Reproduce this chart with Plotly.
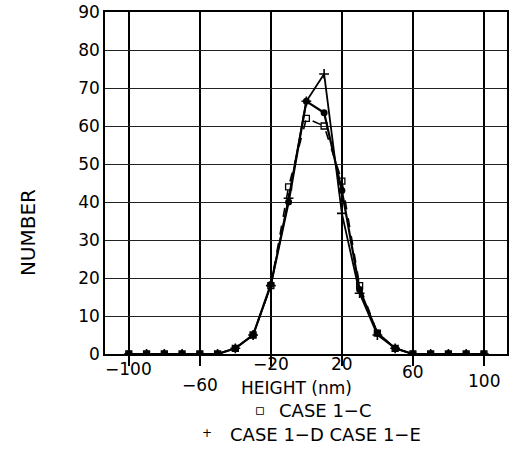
import plotly.graph_objects as go

# Height bins (nm) and counts per case
height = [-100, -90, -80, -70, -60, -50, -40, -30, -20, -10, 0,
          10, 20, 30, 40, 50, 60, 70, 80, 90, 100]
case_c = [0, 0, 0, 0, 0, 0, 1.5, 5, 18, 44, 62, 60, 45.5, 18, 5.5, 1.5, 0, 0, 0, 0, 0]
case_d = [0, 0, 0, 0, 0, 0, 1.5, 5, 18, 41, 66.5, 73.7, 37, 16, 5, 1.5, 0, 0, 0, 0, 0]
case_e = [0, 0, 0, 0, 0, 0, 1.5, 5, 18.3, 40, 66.5, 63.5, 43, 17, 5.5, 1.5, 0, 0, 0, 0, 0]

x_tick_vals = [-100, -60, -20, 20, 60, 100]
x_tick_text = ["\u2212100", "\u221260", "\u221220", "20", "60", "100"]
x_tick_y = [369, 385, 364, 364, 372, 381]   # staggered label centres (px from top)
y_tick_vals = list(range(0, 91, 10))

font = "DejaVu Sans, Liberation Sans, sans-serif"
W, H = 511, 454
ml, mr, mt, mb = 105, 2, 10, 100
pw, ph = W - ml - mr, H - mt - mb

fig = go.Figure()
fig.add_trace(go.Scatter(x=height, y=case_c, mode="lines+markers", name="CASE 1-C",
                         line=dict(color="black", width=1.6, dash="dash"),
                         marker=dict(symbol="square-open", size=6, color="black",
                                     line=dict(width=1.3))))
fig.add_trace(go.Scatter(x=height, y=case_d, mode="lines+markers", name="CASE 1-D",
                         line=dict(color="black", width=1.8),
                         marker=dict(symbol="cross-thin", size=7, color="black",
                                     line=dict(width=1.6, color="black"))))
fig.add_trace(go.Scatter(x=height, y=case_e, mode="lines+markers", name="CASE 1-E",
                         line=dict(color="black", width=2.2),
                         marker=dict(symbol="circle", size=7, color="black")))


def py(v):
    return (H - mb - v) / ph


def px(v):
    return (v - ml) / pw


annotations = []
for v, t, yy in zip(x_tick_vals, x_tick_text, x_tick_y):
    annotations.append(dict(x=v, y=py(yy), xref="x", yref="paper", text=t,
                            showarrow=False, xanchor="center", yanchor="middle",
                            font=dict(family=font, size=17, color="black")))


def label(x, y, text, size=17, angle=0):
    return dict(x=px(x), y=py(y), xref="paper", yref="paper", text=text,
                showarrow=False, textangle=angle, xanchor="center", yanchor="middle",
                font=dict(family=font, size=size, color="black"))


annotations += [
    label(297, 388, "HEIGHT (nm)"),
    label(27, 232, "NUMBER", size=20, angle=-90),
    label(261, 410, "\u25ab", size=15),
    label(327, 411, "CASE 1\u2212C", size=18),
    label(208, 433, "+", size=12),
    label(327, 435, "CASE 1\u2212D CASE 1\u2212E", size=18),
]

fig.update_layout(
    width=W, height=H,
    margin=dict(l=ml, r=mr, t=mt, b=mb),
    paper_bgcolor="white", plot_bgcolor="white",
    showlegend=False,
    annotations=annotations,
    xaxis=dict(range=[-113.4, 113], tickvals=x_tick_vals, showticklabels=False,
               showgrid=True, gridcolor="black", gridwidth=1.8,
               showline=True, linecolor="black", linewidth=1.5, mirror=True,
               ticks="outside", ticklen=10, tickcolor="black", tickwidth=1.5,
               zeroline=False),
    yaxis=dict(range=[0, 90], tickvals=y_tick_vals,
               showgrid=True, gridcolor="#222", gridwidth=1.4,
               showline=True, linecolor="black", linewidth=1.5, mirror=True,
               ticks="", zeroline=False, ticklabeloverflow="allow",
               tickfont=dict(family=font, size=17, color="black")),
)

fig.write_html("out.html")
